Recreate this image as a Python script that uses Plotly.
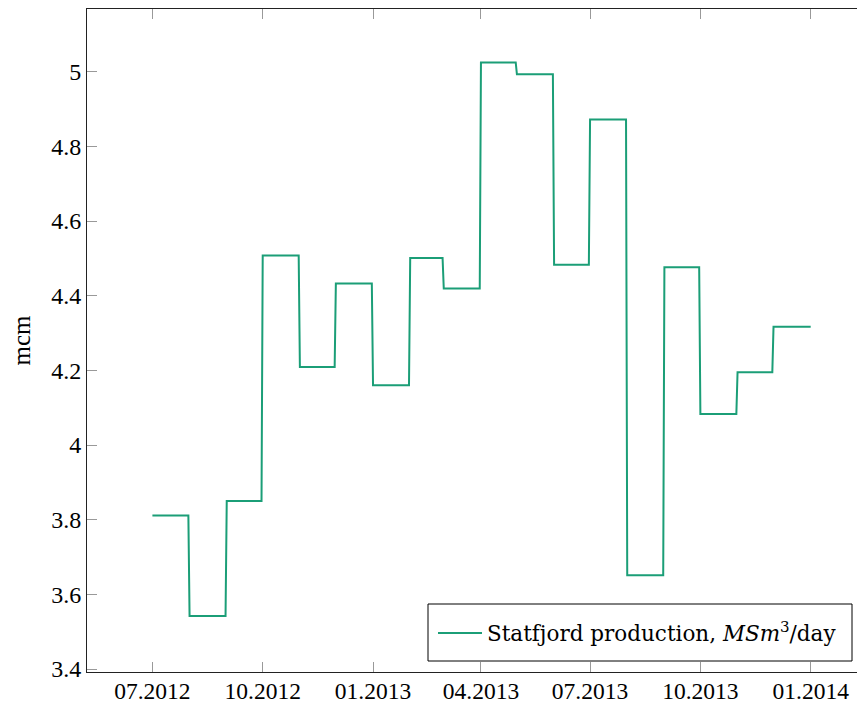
import pandas as pd
import plotly.graph_objects as go

months = ["2012-07", "2012-08", "2012-09", "2012-10", "2012-11", "2012-12",
          "2013-01", "2013-02", "2013-03", "2013-04", "2013-05", "2013-06",
          "2013-07", "2013-08", "2013-09", "2013-10", "2013-11", "2013-12"]
production = [3.811, 3.542, 3.850, 4.508, 4.209, 4.433,
              4.160, 4.501, 4.419, 5.025, 4.993, 4.483,
              4.872, 3.651, 4.476, 4.083, 4.195, 4.317]

series_name = "Statfjord production, <i>MSm</i><sup>3</sup>/day"
y_label = "mcm"

# daily step series: constant value from first to last day of each month
xs, ys = [], []
for i, (m, v) in enumerate(zip(months, production)):
    p = pd.Period(m, freq="M")
    start = p.start_time
    end = p.end_time.normalize()
    if i == len(months) - 1:
        end = end + pd.Timedelta(days=1)
    xs += [start, end]
    ys += [v, v]

fig = go.Figure()
fig.add_trace(go.Scatter(x=xs, y=ys, mode="lines", name=series_name,
                         line=dict(color="#1b9e77", width=2)))

# the page body has an 8px margin, so the figure sits at (8, 8) in the window
OFF = 8
W, H = 865 - OFF, 704 - OFF
L, R, T, B = 87 - OFF, 0, 9 - OFF, 704 - 672
pw, ph = W - L - R, H - T - B

def px_x(x):
    return (x - OFF - L) / pw

def px_y(y):
    return (704 - B - y) / ph

font_family = "Liberation Serif, DejaVu Serif, serif"
legend_family = "DejaVu Serif, Liberation Serif, serif"

# legend frame
fig.add_shape(type="rect", xref="paper", yref="paper",
              x0=px_x(428), x1=px_x(852), y0=px_y(661), y1=px_y(604),
              line=dict(color="black", width=1), fillcolor="white", layer="above")

fig.update_layout(
    width=W, height=H,
    margin=dict(l=L, r=R, t=T, b=B),
    paper_bgcolor="white", plot_bgcolor="white",
    font=dict(family=font_family, size=24, color="black"),
    showlegend=True,
    legend=dict(x=px_x(433), y=px_y(633), xanchor="left", yanchor="middle",
                borderwidth=0, bgcolor="rgba(0,0,0,0)", itemwidth=44,
                font=dict(size=21.5, family=legend_family)),
    xaxis=dict(type="date", range=["2012-05-07 11:00", "2014-02-15 07:00"],
               tick0="2012-07-01", dtick="M3", tickformat="%m.%Y",
               showgrid=False, zeroline=False, automargin=False,
               showline=True, linecolor="#222", linewidth=1, mirror="ticks",
               ticks="inside", ticklen=10, tickcolor="#999", tickwidth=1,
               ticklabelstandoff=-2,
               tickfont=dict(size=23.5)),
    yaxis=dict(range=[3.392, 5.168], tickvals=[3.4, 3.6, 3.8, 4.0, 4.2, 4.4, 4.6, 4.8, 5.0],
               ticktext=["3.4", "3.6", "3.8", "4", "4.2", "4.4", "4.6", "4.8", "5"],
               showgrid=False, zeroline=False, automargin=False,
               showline=True, linecolor="#222", linewidth=1, mirror=False,
               ticks="inside", ticklen=10, tickcolor="#999", tickwidth=1,
               tickfont=dict(size=24),
               title=dict(text=y_label, font=dict(size=25), standoff=17)),
)

fig.write_html("out.html")
